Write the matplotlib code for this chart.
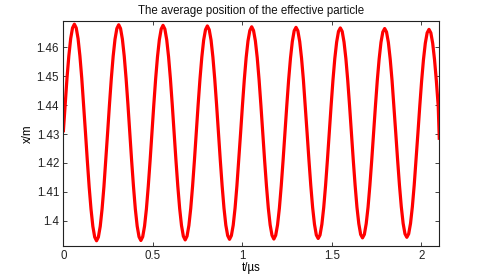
import numpy as np
import matplotlib
matplotlib.use("Agg")
import matplotlib.pyplot as plt

plt.rcParams['font.family'] = ['Liberation Sans', 'DejaVu Sans']

# sampling step of the read-off curve (µs) and the final time
t_step = 0.010315
t_end = 2.1

# x/m values, one per t_step, then the value at t_end
x_vals = [
    1.4306, 1.4402, 1.4493, 1.4570, 1.4630, 1.4667, 1.4680, 1.4667, 1.4630, 1.4570, 1.4493, 1.4402,
    1.4306, 1.4209, 1.4118, 1.4041, 1.3981, 1.3944, 1.3931, 1.3944, 1.3981, 1.4041, 1.4118, 1.4209,
    1.4305, 1.4402, 1.4492, 1.4569, 1.4628, 1.4665, 1.4678, 1.4665, 1.4628, 1.4569, 1.4492, 1.4402,
    1.4305, 1.4208, 1.4119, 1.4041, 1.3982, 1.3945, 1.3932, 1.3945, 1.3982, 1.4041, 1.4119, 1.4208,
    1.4305, 1.4401, 1.4491, 1.4567, 1.4626, 1.4663, 1.4676, 1.4663, 1.4626, 1.4567, 1.4491, 1.4401,
    1.4305, 1.4209, 1.4120, 1.4043, 1.3984, 1.3947, 1.3934, 1.3947, 1.3984, 1.4043, 1.4120, 1.4209,
    1.4305, 1.4401, 1.4490, 1.4566, 1.4625, 1.4661, 1.4674, 1.4661, 1.4625, 1.4566, 1.4490, 1.4401,
    1.4305, 1.4210, 1.4121, 1.4044, 1.3985, 1.3949, 1.3936, 1.3949, 1.3985, 1.4044, 1.4121, 1.4210,
    1.4304, 1.4399, 1.4488, 1.4564, 1.4622, 1.4658, 1.4671, 1.4658, 1.4622, 1.4564, 1.4488, 1.4399,
    1.4304, 1.4209, 1.4121, 1.4044, 1.3986, 1.3950, 1.3937, 1.3950, 1.3986, 1.4044, 1.4121, 1.4209,
    1.4304, 1.4398, 1.4487, 1.4562, 1.4620, 1.4657, 1.4669, 1.4657, 1.4620, 1.4562, 1.4487, 1.4398,
    1.4304, 1.4210, 1.4122, 1.4046, 1.3988, 1.3951, 1.3939, 1.3951, 1.3988, 1.4046, 1.4122, 1.4210,
    1.4304, 1.4398, 1.4486, 1.4561, 1.4618, 1.4655, 1.4667, 1.4655, 1.4618, 1.4561, 1.4486, 1.4398,
    1.4304, 1.4210, 1.4123, 1.4047, 1.3990, 1.3953, 1.3941, 1.3953, 1.3990, 1.4047, 1.4123, 1.4210,
    1.4304, 1.4397, 1.4485, 1.4559, 1.4617, 1.4653, 1.4665, 1.4653, 1.4617, 1.4559, 1.4485, 1.4397,
    1.4304, 1.4211, 1.4124, 1.4049, 1.3991, 1.3955, 1.3943, 1.3955, 1.3991, 1.4049, 1.4124, 1.4211,
    1.4303, 1.4396, 1.4483, 1.4557, 1.4614, 1.4650, 1.4662, 1.4650, 1.4614, 1.4557, 1.4483, 1.4396,
]
x_end = 1.4280

x_ticks = [0, 0.5, 1, 1.5, 2]
x_tick_labels = ["0", "0.5", "1", "1.5", "2"]
y_ticks = [1.40, 1.41, 1.42, 1.43, 1.44, 1.45, 1.46]
y_tick_labels = ["1.4", "1.41", "1.42", "1.43", "1.44", "1.45", "1.46"]

t = list(np.arange(len(x_vals)) * t_step) + [t_end]
x = x_vals + [x_end]

fig = plt.figure(figsize=(4.85, 2.77), dpi=100)
ax = fig.add_axes([0.1305, 0.1119, 0.7753, 0.8134])
ax.plot(t, x, color='#ff0000', lw=2.3, solid_joinstyle='round', solid_capstyle='butt')
ax.set_xlim(0, 2.1)
ax.set_ylim(1.3913, 1.4692)
ax.set_xticks(x_ticks)
ax.set_xticklabels(x_tick_labels)
ax.set_yticks(y_ticks)
ax.set_yticklabels(y_tick_labels)
ax.tick_params(direction='in', top=True, right=True, length=3, width=0.6,
               labelsize=8.3, colors='#222222', pad=3)
for s in ax.spines.values():
    s.set_color('#222222')
    s.set_linewidth(0.8)
ax.set_title("The average position of the effective particle", fontsize=8.3, pad=5,
             color='#111111')
ax.set_xlabel("t/\u00b5s", fontsize=8.3, labelpad=0)
ax.set_ylabel("x/m", fontsize=8.3, labelpad=2)
fig.savefig("out.png", dpi=100)
